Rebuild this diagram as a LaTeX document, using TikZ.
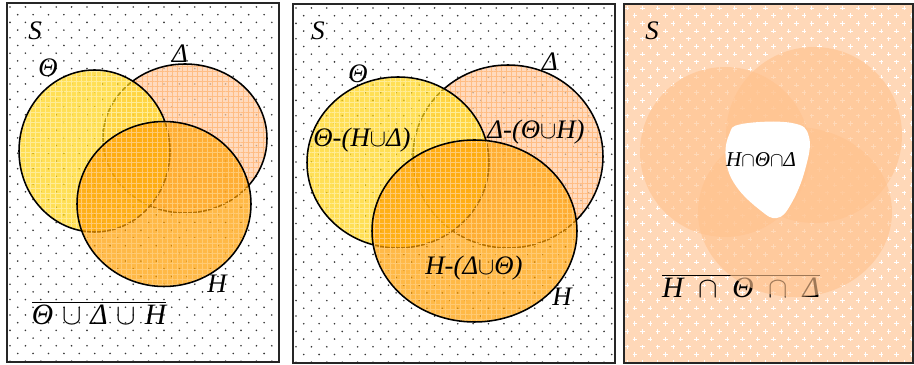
\documentclass[tikz,border=0pt]{standalone}
\usepackage{fontspec}
\setmainfont{Liberation Serif}
\usetikzlibrary{patterns.meta}
\definecolor{vennGold}{RGB}{255,212,20}
\definecolor{vennPeach}{RGB}{255,205,165}
\definecolor{vennOrange}{RGB}{255,158,0}
\definecolor{vennSoft}{RGB}{255,216,184}
\definecolor{vennBlob}{RGB}{255,194,142}
\definecolor{vennDot}{RGB}{55,55,55}

\begin{document}
\begin{tikzpicture}[
    x=0.025cm, y=-0.025cm,
    panel/.style={draw=black!85, line width=1.3pt},
    weave/.style={postaction={pattern={Hatch[distance=3.6pt, line width=0.35pt]}, pattern color=#1}},
    rim/.style={postaction={draw=black, line width=1.1pt, fill opacity=1}},
    setTheta/.style={fill=vennGold, fill opacity=0.72, weave=vennGold!45!white, rim},
    setDelta/.style={fill=vennPeach, fill opacity=0.72, weave=vennPeach!80!orange, rim},
    setEta/.style={fill=vennOrange, fill opacity=0.72, weave=vennOrange!55!white, rim},
    blob/.style={fill=vennBlob, fill opacity=0.62},
    lbl/.style={font=\itshape\fontsize{19}{21}\selectfont, inner sep=0pt},
    region/.style={font=\itshape\fontsize{19}{21}\selectfont, inner sep=0pt}
]
    \useasboundingbox (0,0) rectangle (914,365);

    % dotted universe, panels one and two
    \foreach \lx/\ty/\rx/\by in {7/3/279/362, 293/4/615/363} {
        \fill[white] (\lx,\ty) rectangle (\rx,\by);
        \begin{scope}
            \clip (\lx,\ty) rectangle (\rx,\by);
            \foreach \r in {0,...,47}
                \foreach \c in {0,...,21}
                    \fill[vennDot] ({\lx+3+\c*15.4+mod(\r,2)*7.7}, {\ty+4+\r*7.7}) circle [radius=0.9];
        \end{scope}
    }

    % panel one: complement of the union
    \path[setDelta] (185,138.5) ellipse [x radius=82, y radius=74.5];
    \path[setTheta] (94.5,151) ellipse [x radius=75.5, y radius=81];
    \path[setEta] (164,204) ellipse [x radius=87, y radius=82.5];
    \node[lbl] (s1) at (35,31) {S};
    \node[lbl] (theta1) at (48,68) {Θ};
    \node[lbl] (delta1) at (180,54) {Δ};
    \node[lbl] (eta1) at (217,284) {H};
    \node[lbl, font=\itshape\fontsize{21}{23}\selectfont] (comp1) at (99,313) {$\overline{\mbox{\itshape Θ\hspace{0.3em}$\cup$\hspace{0.3em}Δ\hspace{0.3em}$\cup$\hspace{0.3em}H}}$};
    \draw[panel] (7,3) rectangle (279,362);

    % panel two: the parts of each set alone
    \path[setDelta] (508,156.5) ellipse [x radius=95, y radius=91.5];
    \path[setTheta] (398,162.5) ellipse [x radius=91, y radius=85.5];
    \path[setEta] (474.5,231) ellipse [x radius=102.5, y radius=91];
    \node[lbl] (s2) at (318,31) {S};
    \node[lbl] (theta2) at (358,74) {Θ};
    \node[lbl] (delta2) at (550,62) {Δ};
    \node[lbl] (eta2) at (562,297) {H};
    \node[region] (onlyTheta) at (362,140) {Θ-(H$\cup$Δ)};
    \node[region] (onlyDelta) at (536,132) {Δ-(Θ$\cup$H)};
    \node[region] (onlyEta) at (474,268) {H-(Δ$\cup$Θ)};
    \draw[panel] (293,4) rectangle (615,363);

    % panel three: complement of the intersection
    \fill[vennSoft] (624,4) rectangle (913,363);
    \begin{scope}
        \clip (624,4) rectangle (913,363);
        \foreach \r in {0,...,47}
            \foreach \c in {0,...,19} {
                \draw[white, line width=0.7pt] ({627+\c*15.4+mod(\r,2)*7.7-2.2}, {8+\r*7.7}) -- ++(4.4,0);
                \draw[white, line width=0.7pt] ({627+\c*15.4+mod(\r,2)*7.7}, {8+\r*7.7-2.2}) -- ++(0,4.4);
            }
    \end{scope}
    \node[lbl] (s3) at (652,31) {S};
    \node[lbl, font=\itshape\fontsize{21}{23}\selectfont] (comp3) at (741,286) {$\overline{\mbox{\itshape H\enspace$\cap$\enspace Θ\enspace$\cap$\enspace Δ}}$};
    \fill[blob] (725,152) circle [radius=85];
    \fill[blob] (814,135) circle [radius=88];
    \fill[blob] (795,212) ellipse [x radius=97, y radius=85];
    \fill[white] plot[smooth cycle, tension=0.7] coordinates {(742,124) (792,123) (809,137) (805,170) (791,204) (777,218) (760,210) (736,186) (726,160) (729,135)};
    \node[font=\itshape\fontsize{15}{17}\selectfont, inner sep=0pt] (meet) at (761,160) {H$\cap$Θ$\cap$Δ};
    \draw[panel] (624,4) rectangle (913,363);
\end{tikzpicture}
\end{document}
